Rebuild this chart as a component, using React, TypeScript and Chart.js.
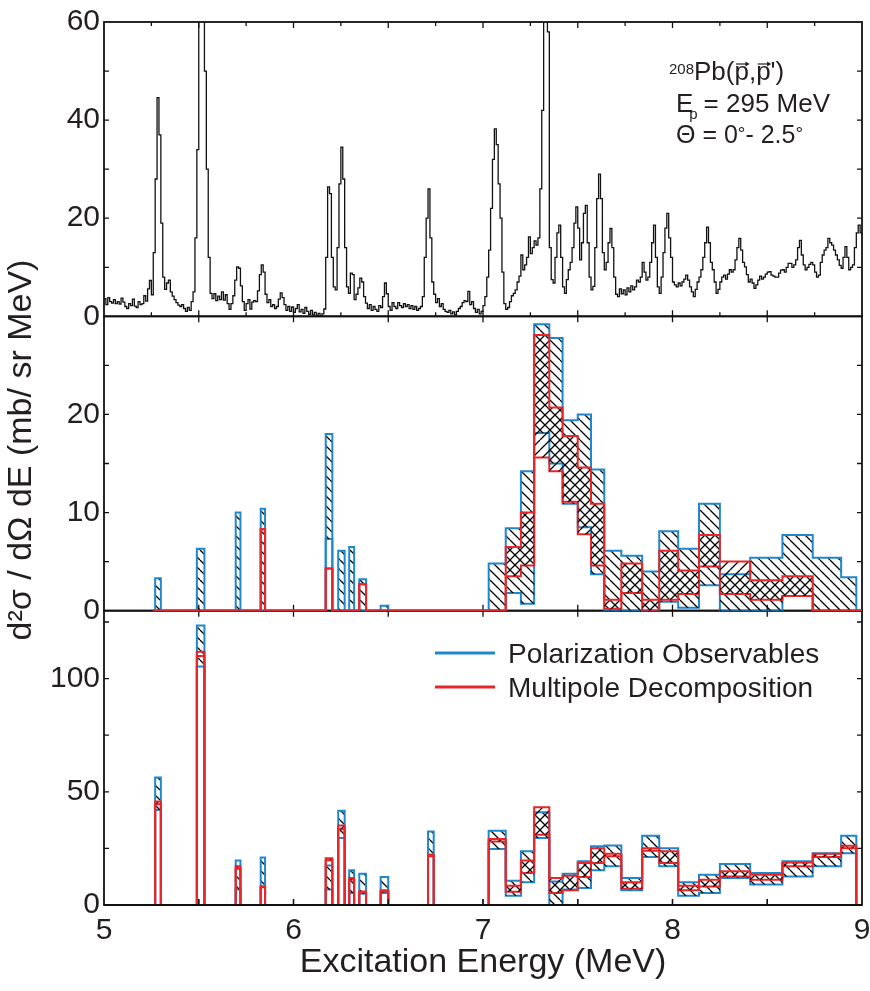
import React, { useEffect, useRef } from 'react';
import { Chart, registerables } from 'chart.js';

Chart.register(...registerables);

const FONT = '"Liberation Sans", Arial, Helvetica, sans-serif';
const TEXT = '#231f20';
const BLUE = '#1f87cb';
const RED = '#e8262a';
const BLACK = '#111111';

// ---------- top panel: measured spectrum (bins of 0.01 MeV starting at 5.00 MeV)
const spectrumStart = 5.0;
const spectrumBinWidth = 0.01;
const spectrumCounts = [
  3.6, 2.4, 3.8, 3.0, 2.7, 3.4, 2.6, 3.0, 2.5, 3.7,
  2.9, 2.0, 1.6, 2.6, 2.2, 3.5, 2.1, 1.8, 3.0, 2.4,
  2.6, 4.2, 3.1, 5.6, 7.3, 4.4, 13, 28, 44.6, 37,
  19, 8, 5.5, 6.8, 7.4, 5.0, 4.1, 3.4, 2.8, 2.3,
  2.0, 2.4, 1.6, 1.0, 1.8, 1.2, 3.0, 5.0, 16, 34,
  65, 80, 75, 50, 30, 12, 4.7, 3.6, 4.6, 3.2,
  4.1, 3.4, 5.0, 3.3, 4.4, 2.6, 1.4, 2.6, 4.2, 7.4,
  10.1, 9.8, 6.2, 3.0, 1.2, 2.6, 3.4, 1.5, 2.9, 3.2,
  3.0, 5.2, 8.5, 10.5, 9.0, 4.5, 2.8, 3.4, 2.0, 2.4,
  1.6, 2.0, 3.5, 4.8, 3.8, 2.4, 1.2, 2.0, 1.0, 1.9,
  0.8, 1.6, 2.4, 0.9, 1.4, 0.6, 1.8, 1.0, 0.4, 1.2,
  0.3, 0.8, 0.2, 0.6, 0.1, 0.5, 1.5, 12, 26.4, 25,
  12, 6.0, 5.4, 14, 27, 34.5, 28, 14, 6.0, 4.7,
  8.8, 8.5, 3.4, 4.5, 5.8, 7.8, 7.0, 4.0, 2.7, 1.6,
  2.4, 1.2, 2.0, 1.4, 1.0, 2.2, 1.8, 4.0, 6.8, 4.6,
  2.0, 1.2, 2.8, 2.0, 1.6, 2.8, 2.2, 1.8, 2.6, 2.0,
  2.4, 1.6, 2.2, 1.4, 2.0, 1.2, 1.6, 2.0, 4.0, 12,
  20, 26, 16, 7, 4.5, 2.8, 3.6, 2.0, 2.6, 1.4,
  1.0, 0.8, 1.2, 0.5, 0.9, 0.3, 1.0, 1.6, 2.0, 2.8,
  3.2, 3.0, 5.1, 2.4, 3.0, 1.6, 0.8, 1.4, 0.5, 1.0,
  2.2, 4.0, 8.0, 13.5, 22, 32, 38.2, 35, 27, 20,
  9, 2.6, 1.4, 1.8, 3.0, 4.2, 4.7, 5.4, 7.0, 8.2,
  12.5, 9.5, 10.5, 12, 16.2, 12.8, 14, 15.4, 14.5, 16,
  26, 42, 65, 75, 58, 14, 7.5, 6.8, 12, 17,
  18.6, 12, 6, 4.7, 7.5, 9.5, 11, 14, 19, 22.3,
  18, 11.5, 15, 21, 22.6, 15, 8, 5.4, 6.1, 14,
  24, 29, 24, 13, 9.5, 11, 15, 17.9, 14, 8,
  4.5, 4.0, 5.6, 4.6, 5.4, 4.4, 5.8, 5.0, 6.2, 5.4,
  6.0, 7.4, 7.0, 8.0, 11, 9.0, 7.4, 8.0, 11, 15,
  18.6, 12, 6.0, 4.7, 8.0, 13, 18, 21, 16, 12,
  7.0, 6.4, 6.0, 6.8, 6.2, 7.0, 7.6, 8.4, 7.4, 6.0,
  5.0, 4.0, 5.5, 7.0, 8.0, 9.5, 12, 15, 18.2, 15,
  11, 9.5, 7.0, 4.7, 5.5, 7.0, 8.0, 8.4, 7.6, 8.6,
  9.5, 9.0, 9.5, 11.5, 14, 15.9, 13.5, 11, 10.1, 8.5,
  7.0, 7.6, 6.8, 5.7, 6.4, 7.4, 8.2, 7.6, 8.0, 8.6,
  9.0, 9.1, 8.4, 8.2, 8.0, 8.0, 8.8, 9.4, 9.5, 9.0,
  10.0, 10.8, 10.8, 10.0, 10.5, 11.5, 14.0, 15.5, 12.5, 10.5,
  9.5, 10.0, 10.6, 11.0, 10.5, 9.0, 8.0, 8.4, 11.0, 12.5,
  13.5, 14.0, 15.9, 15.0, 14.5, 13.5, 12.5, 11.5, 10.4, 9.8,
  12.0, 14.2, 12.0, 9.5, 10.0, 10.5, 14.0, 17.0, 18.6, 17.0,
];

// ---------- bins of the decomposed strength (shared by middle and bottom panels)
const histStart = 5.26;
const histEnd = 9.0;
const narrowBins = [
  [5.27, 5.30], [5.49, 5.53], [5.695, 5.72], [5.827, 5.85], [6.17, 6.205],
  [6.236, 6.27], [6.294, 6.32], [6.347, 6.383], [6.46, 6.50], [6.71, 6.74],
];
const wideBinEdges = [
  7.03, 7.12, 7.20, 7.27, 7.35, 7.42, 7.50, 7.57, 7.64, 7.73, 7.84,
  7.93, 8.03, 8.14, 8.25, 8.41, 8.58, 8.74, 8.89, 8.97,
];

// middle panel (mb/sr MeV): 10 narrow bins followed by 19 wide bins
const midPolHigh = [3.3, 6.3, 10.0, 10.4, 18.0, 6.1, 6.5, 3.2, 0.5, 0,
  4.8, 8.4, 14.2, 29.2, 27.8, 19.4, 20.0, 14.4, 6.1, 5.6, 4.0, 8.1, 6.3, 10.9, 3.7, 5.4, 7.7, 5.4, 3.4];
const midPolLow = [0, 0, 0, 0, 7.3, 0, 0, 0, 0, 0,
  0, 1.8, 0.7, 18.1, 15.0, 10.9, 8.5, 3.7, 0, 0, 0, 0.9, 0.3, 2.6, 0, 0, 1.5, 0, 0];
const midMdaHigh = [0, 0, 0, 8.3, 4.3, 0, 0, 2.7, 0, 0,
  0, 6.5, 10.0, 28.1, 20.7, 17.8, 14.6, 10.9, 1.1, 4.8, 1.1, 6.1, 4.1, 7.7, 5.0, 3.1, 3.5, 0, 0];
const midMdaLow = [0, 0, 0, 8.3, 4.3, 0, 0, 2.7, 0, 0,
  0, 3.5, 4.6, 15.6, 14.2, 11.1, 7.8, 4.6, 0.2, 1.8, 0, 1.1, 1.7, 4.5, 1.7, 1.1, 1.5, 0, 0];

// bottom panel
const botPolHigh = [56.3, 123.4, 19.6, 21.0, 17.5, 41.6, 15.3, 13.8, 12.4, 32.5,
  32.8, 10.7, 23.7, 41.0, 10.4, 13.8, 19.3, 25.9, 26.3, 11.9, 30.6, 25.1, 10.0, 13.4, 18.1, 14.1, 19.3, 22.9, 30.6];
const botPolLow = [42.0, 105.3, 6.8, 8.2, 6.8, 29.6, 5.3, 5.0, 5.3, 22.2,
  24.7, 4.1, 10.0, 29.6, 0, 6.8, 7.5, 15.3, 17.1, 6.5, 21.2, 17.1, 4.1, 5.3, 11.9, 9.0, 12.6, 17.1, 22.9];
const botMdaHigh = [45.7, 111.9, 17.1, 8.2, 20.7, 35.1, 11.9, 6.0, 6.5, 22.2,
  29.1, 8.5, 19.7, 43.2, 11.9, 12.9, 18.5, 25.1, 22.6, 10.0, 25.1, 23.7, 8.5, 11.2, 14.9, 13.4, 18.8, 22.6, 26.2];
const botMdaLow = [44.5, 110.0, 16.0, 7.8, 19.8, 33.5, 11.2, 5.6, 6.0, 21.5,
  28.0, 5.9, 14.1, 31.0, 5.3, 6.5, 12.4, 18.5, 21.5, 7.2, 24.0, 18.5, 6.5, 8.2, 12.6, 11.2, 17.1, 21.2, 25.1];

const xTickValues = [5, 6, 7, 8, 9];
const topTickValues = [0, 20, 40, 60];
const midTickValues = [0, 10, 20];
const botTickValues = [0, 50, 100];

const legendLabels = ['Polarization Observables', 'Multipole Decomposition'];

// ---------- helpers
function allBins(): number[][] {
  const bins = narrowBins.map((b) => [b[0], b[1]]);
  for (let i = 0; i < wideBinEdges.length - 1; i++) bins.push([wideBinEdges[i], wideBinEdges[i + 1]]);
  return bins;
}

function stepPoints(values: number[]) {
  const bins = allBins();
  const pts: { x: number; y: number }[] = [];
  let prev = histStart;
  bins.forEach((b, i) => {
    if (b[0] > prev + 1e-9) pts.push({ x: prev, y: 0 });
    pts.push({ x: b[0], y: values[i] });
    prev = b[1];
  });
  pts.push({ x: prev, y: 0 });
  if (histEnd > prev + 1e-9) pts.push({ x: histEnd, y: 0 });
  return pts;
}

function spectrumPoints() {
  const pts = spectrumCounts.map((v, i) => ({ x: spectrumStart + i * spectrumBinWidth, y: v }));
  pts.push({ x: spectrumStart + spectrumCounts.length * spectrumBinWidth, y: spectrumCounts[spectrumCounts.length - 1] });
  return pts;
}

function makeHatch(dir: 'back' | 'fwd'): CanvasPattern | string {
  const s = 10;
  const c = document.createElement('canvas');
  c.width = s;
  c.height = s;
  const g = c.getContext('2d');
  if (!g) return 'rgba(0,0,0,0.2)';
  g.strokeStyle = '#000';
  g.lineWidth = 1.3;
  g.beginPath();
  for (let k = -1; k <= 1; k++) {
    if (dir === 'back') {
      g.moveTo(k * s, 0);
      g.lineTo(k * s + s, s);
    } else {
      g.moveTo(k * s, s);
      g.lineTo(k * s + s, 0);
    }
  }
  g.stroke();
  return g.createPattern(c, 'repeat') || 'rgba(0,0,0,0.2)';
}

const panels = [
  { id: 'yTop', minor: 10, xStep: 0.25 },
  { id: 'yMid', minor: 5, xStep: 0.5 },
  { id: 'yBot', minor: 25, xStep: 0.5 },
];

const framePlugin = {
  id: 'frameAndText',
  beforeDatasetsDraw(chart: any) {
    const ctx = chart.ctx as CanvasRenderingContext2D;
    const xs = chart.scales.x;
    ctx.save();
    ctx.strokeStyle = BLACK;
    ctx.lineWidth = 1.8;
    for (const p of panels) {
      const ys = chart.scales[p.id];
      const L = xs.left, R = xs.right, T = ys.top, B = ys.bottom;
      ctx.strokeRect(L, T, R - L, B - T);
      ctx.lineWidth = 1.3;
      ctx.beginPath();
      for (let v = p.minor; v < ys.max - 1e-6; v += p.minor) {
        const y = ys.getPixelForValue(v);
        ctx.moveTo(L, y); ctx.lineTo(L + 5, y);
        ctx.moveTo(R, y); ctx.lineTo(R - 5, y);
      }
      for (let e = 5 + p.xStep; e < 9 - 1e-6; e += p.xStep) {
        const x = xs.getPixelForValue(e);
        const major = Math.abs(e * 2 - Math.round(e * 2)) < 1e-6;
        const len = major ? 6 : 4;
        ctx.moveTo(x, T); ctx.lineTo(x, T + len);
        ctx.moveTo(x, B); ctx.lineTo(x, B - len);
      }
      ctx.stroke();
      ctx.lineWidth = 1.8;
    }
    ctx.restore();
  },
  afterDatasetsDraw(chart: any) {
    const ctx = chart.ctx as CanvasRenderingContext2D;
    const xs = chart.scales.x;
    const yb = chart.scales.yBot;
    ctx.save();
    // bottom edge on top of zero lines
    ctx.strokeStyle = BLACK;
    ctx.lineWidth = 1.8;
    ctx.beginPath();
    ctx.moveTo(xs.left, yb.bottom);
    ctx.lineTo(xs.right, yb.bottom);
    ctx.stroke();
    ctx.lineWidth = 1.3;
    ctx.beginPath();
    for (let e = 5.5; e < 9; e += 0.5) {
      const x = xs.getPixelForValue(e);
      ctx.moveTo(x, yb.bottom); ctx.lineTo(x, yb.bottom - 6);
    }
    ctx.stroke();

    ctx.fillStyle = TEXT;
    ctx.strokeStyle = TEXT;
    ctx.textAlign = 'left';
    ctx.textBaseline = 'alphabetic';

    // annotation in top panel
    ctx.font = `15px ${FONT}`;
    ctx.fillText('208', 669, 74);
    ctx.font = `26px ${FONT}`;
    const x0 = 694;
    ctx.fillText("Pb(p,p')", x0, 80);
    const pw = ctx.measureText('p').width;
    const p1 = x0 + ctx.measureText('Pb(').width;
    const p2 = x0 + ctx.measureText('Pb(p,').width;
    ctx.lineWidth = 1.2;
    for (const px of [p1, p2]) {
      const ay = 64;
      ctx.beginPath();
      ctx.moveTo(px + 1.5, ay);
      ctx.lineTo(px + pw - 0.5, ay);
      ctx.stroke();
      ctx.beginPath();
      ctx.moveTo(px + pw + 0.5, ay);
      ctx.lineTo(px + pw - 3.5, ay - 2.5);
      ctx.lineTo(px + pw - 3.5, ay + 2.5);
      ctx.closePath();
      ctx.fill();
    }
    ctx.font = `26px ${FONT}`;
    ctx.fillText('E', 676, 112);
    const ew = ctx.measureText('E').width;
    ctx.font = `15px ${FONT}`;
    ctx.fillText('p', 676 + ew - 4, 119);
    ctx.font = `26px ${FONT}`;
    ctx.fillText(' = 295 MeV', 676 + ew + 3, 112);

    // third line, degree signs as small raised circles
    let tx = 676;
    const part = (s: string, size: number, dy: number) => {
      ctx.font = `${size}px ${FONT}`;
      ctx.fillText(s, tx, 143 + dy);
      tx += ctx.measureText(s).width;
    };
    part('\u0398 = 0', 25, 0);
    part('\u00b0', 19, -3);
    part('- 2.5', 25, 0);
    part('\u00b0', 19, -3);

    // legend in bottom panel
    ctx.lineWidth = 3;
    ctx.strokeStyle = BLUE;
    ctx.beginPath(); ctx.moveTo(435, 653); ctx.lineTo(495, 653); ctx.stroke();
    ctx.strokeStyle = RED;
    ctx.beginPath(); ctx.moveTo(435, 687); ctx.lineTo(495, 687); ctx.stroke();
    ctx.font = `28px ${FONT}`;
    ctx.fillText(legendLabels[0], 508, 663);
    ctx.fillText(legendLabels[1], 508, 697);

    // axis titles
    ctx.font = `34px ${FONT}`;
    ctx.textAlign = 'center';
    ctx.fillText('Excitation Energy (MeV)', (xs.left + xs.right) / 2, 972);
    ctx.save();
    ctx.translate(31, 450);
    ctx.rotate(-Math.PI / 2);
    ctx.fillText('d\u00b2\u03c3 / d\u03a9 dE (mb/ sr MeV)', 0, 0);
    ctx.restore();
    ctx.restore();
  },
};

function yScale(min: number, max: number, ticks: number[]) {
  return {
    type: 'linear' as const,
    position: 'left' as const,
    stack: 'panels',
    stackWeight: 1,
    min,
    max,
    grid: { display: false, drawTicks: false },
    border: { display: false },
    ticks: {
      color: TEXT,
      font: { family: FONT, size: 30 },
      padding: 4,
      callback: (v: any) => String(v),
    },
    afterBuildTicks: (s: any) => {
      s.ticks = ticks.map((value) => ({ value }));
    },
    afterFit: (s: any) => {
      s.width = 104;
    },
  };
}

export default function App() {
  const ref = useRef<HTMLCanvasElement | null>(null);
  useEffect(() => {
    if (!ref.current) return;
    const back = makeHatch('back');
    const fwd = makeHatch('fwd');
    const line = (data: any, color: string, yAxisID: string, fill: any, bg: any, width = 2) => ({
      data,
      yAxisID,
      xAxisID: 'x',
      borderColor: color,
      borderWidth: width,
      backgroundColor: bg,
      fill,
      stepped: true,
      pointRadius: 0,
      tension: 0,
    });
    const chart = new Chart(ref.current, {
      type: 'line',
      data: {
        datasets: [
          line(spectrumPoints(), BLACK, 'yTop', false, 'transparent', 1.3),
          line(stepPoints(midMdaHigh), RED, 'yMid', '+1', fwd),
          line(stepPoints(midMdaLow), RED, 'yMid', false, 'transparent'),
          line(stepPoints(midPolHigh), BLUE, 'yMid', '+1', back),
          line(stepPoints(midPolLow), BLUE, 'yMid', false, 'transparent'),
          line(stepPoints(botMdaHigh), RED, 'yBot', '+1', fwd),
          line(stepPoints(botMdaLow), RED, 'yBot', false, 'transparent'),
          line(stepPoints(botPolHigh), BLUE, 'yBot', '+1', back),
          line(stepPoints(botPolLow), BLUE, 'yBot', false, 'transparent'),
        ] as any,
      },
      options: {
        animation: false,
        responsive: false,
        devicePixelRatio: 1,
        layout: { padding: { top: 19, right: 0, bottom: 0, left: 0 } },
        plugins: { legend: { display: false }, tooltip: { enabled: false } },
        scales: {
          x: {
            type: 'linear',
            position: 'bottom',
            min: 5,
            max: 9,
            grid: { display: false, drawTicks: false },
            border: { display: false },
            ticks: {
              color: TEXT,
              font: { family: FONT, size: 30 },
              padding: 8,
              maxRotation: 0,
              autoSkip: false,
              callback: (v: any) => String(v),
            },
            afterBuildTicks: (s: any) => {
              s.ticks = xTickValues.map((value) => ({ value }));
            },
            afterFit: (s: any) => {
              s.height = 86;
              s.paddingRight = 8;
            },
          },
          yBot: yScale(0, 130, botTickValues),
          yMid: yScale(0, 30, midTickValues),
          yTop: yScale(0, 60, topTickValues),
        } as any,
      },
      plugins: [framePlugin],
    });
    return () => chart.destroy();
  }, []);
  return (
    <div style={{ position: 'absolute', left: 0, top: 0, width: 870, height: 991, background: '#fff' }}>
      <canvas ref={ref} width={870} height={991} style={{ display: 'block', width: 870, height: 991 }} />
    </div>
  );
}
